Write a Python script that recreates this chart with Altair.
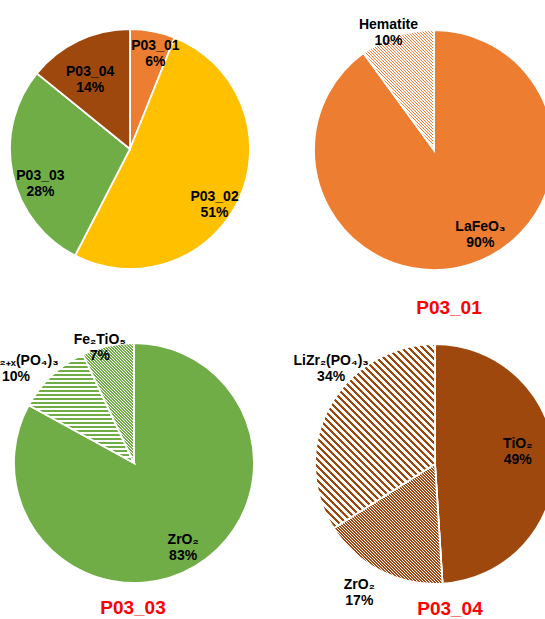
import math
import altair as alt
import pandas as pd

# ---------------- data ----------------
pie_ids = ["all", "P03_01", "P03_03", "P03_04"]
pie_titles = ["", "P03_01", "P03_03", "P03_04"]

labels_all = ["P03_01", "P03_02", "P03_03", "P03_04"]
values_all = [6, 51, 28, 14]

labels_01 = ["LaFeO₃", "Hematite"]
values_01 = [90, 10]

labels_03 = ["ZrO₂", "LiZr₂₊ₓ(PO₄)₃", "Fe₂TiO₅"]
values_03 = [83, 10, 7]

labels_04 = ["TiO₂", "ZrO₂", "LiZr₂(PO₄)₃"]
values_04 = [49, 17, 34]

all_labels = [labels_all, labels_01, labels_03, labels_04]
all_values = [values_all, values_01, values_03, values_04]

# ---------------- style ----------------
FONT = "Liberation Sans, Arial, sans-serif"
R = 120
CENTERS = {"all": (130, 149), "P03_01": (434, 150), "P03_03": (134, 463), "P03_04": (435, 464)}
TITLE_POS = {"P03_01": (449, 308), "P03_03": (133, 608), "P03_04": (450, 609)}

ORANGE, YELLOW, GREEN, BROWN = "#ED7D31", "#FFC000", "#70AD47", "#9E480E"
SOLID = {
    ("all", "P03_01"): ORANGE, ("all", "P03_02"): YELLOW,
    ("all", "P03_03"): GREEN, ("all", "P03_04"): BROWN,
    ("P03_01", "LaFeO₃"): ORANGE, ("P03_03", "ZrO₂"): GREEN, ("P03_04", "TiO₂"): BROWN,
}
# (colour, period px measured across the stripes, colour share, direction)
SQ2 = math.sqrt(2)
PATTERN = {
    ("P03_01", "Hematite"): (ORANGE, 3 / SQ2, 0.5, "down"),
    ("P03_03", "LiZr₂₊ₓ(PO₄)₃"): (GREEN, 4.0, 0.5, "horiz"),
    ("P03_03", "Fe₂TiO₅"): (GREEN, 3 / SQ2, 0.5, "down"),
    ("P03_04", "ZrO₂"): (BROWN, 3 / SQ2, 0.5, "down"),
    ("P03_04", "LiZr₂(PO₄)₃"): (BROWN, 7 / SQ2, 0.42, "down"),
}
# label radius (fraction of R) and angular shift (degrees)
LABEL_POS = {
    ("all", "P03_01"): (0.88, 3), ("all", "P03_02"): (0.81, 5),
    ("all", "P03_03"): (0.78, -5), ("all", "P03_04"): (0.72, -2),
    ("P03_01", "LaFeO₃"): (0.75, -13), ("P03_01", "Hematite"): (1.11, -2),
    ("P03_03", "ZrO₂"): (0.76, -2), ("P03_03", "LiZr₂₊ₓ(PO₄)₃"): (1.3, -6),
    ("P03_03", "Fe₂TiO₅"): (1.06, -3),
    ("P03_04", "TiO₂"): (0.71, -12), ("P03_04", "ZrO₂"): (1.19, 5),
    ("P03_04", "LiZr₂(PO₄)₃"): (1.22, 16),
}

# ---------------- table ----------------
rows = []
for pid, labs, vals in zip(pie_ids, all_labels, all_values):
    for i, (lab, v) in enumerate(zip(labs, vals)):
        lr, sh = LABEL_POS[(pid, lab)]
        rows.append(dict(pie=pid, label=lab, value=v, order=i,
                         key=f"{pid}|{lab}", lr=lr, shift=sh))
df = pd.DataFrame(rows)

keys, colors = [], []
for (pid, lab), c in SOLID.items():
    keys.append(f"{pid}|{lab}")
    colors.append(c)
for (pid, lab), p in PATTERN.items():
    keys.append(f"{pid}|{lab}")
    colors.append(p[0])


def slice_bbox(pid, lab):
    labs = all_labels[pie_ids.index(pid)]
    vals = all_values[pie_ids.index(pid)]
    tot = sum(vals)
    i = labs.index(lab)
    a0 = 2 * math.pi * sum(vals[:i]) / tot
    a1 = 2 * math.pi * sum(vals[: i + 1]) / tot
    pts = [(0, 0), (R * math.sin(a0), -R * math.cos(a0)), (R * math.sin(a1), -R * math.cos(a1))]
    for k in range(5):
        ang = k * math.pi / 2
        if a0 < ang < a1:
            pts.append((R * math.sin(ang), -R * math.cos(ang)))
    xs = [p[0] for p in pts]
    ys = [p[1] for p in pts]
    return max(xs) - min(xs), max(ys) - min(ys)


def stripes(pid, lab):
    color, period, duty, direction = PATTERN[(pid, lab)]
    W, H = slice_bbox(pid, lab)
    if direction == "horiz":
        n = math.ceil(H / period)
        coords = dict(x1=0, y1=0, x2=0, y2=n * period / H)
    else:
        extent = (W + H) / SQ2
        n = math.ceil(extent / period)
        k = SQ2 * n * period / (W * W + H * H)
        if direction == "down":
            coords = dict(x1=0, y1=1, x2=k * W, y2=1 - k * H)
        else:
            coords = dict(x1=0, y1=0, x2=k * W, y2=k * H)
    stops = []
    for i in range(n):
        a, b, c = i / n, (i + duty) / n, (i + 1) / n
        stops += [
            {"color": color, "offset": a}, {"color": color, "offset": b},
            {"color": "#FFFFFF", "offset": b}, {"color": "#FFFFFF", "offset": c},
        ]
    return alt.LinearGradient(gradient="linear", stops=stops, **coords)


theta_scale = alt.Scale(domain=[0, 1], range=[0, 2 * math.pi])
radius_scale = alt.Scale(type="linear", domain=[0, 1], range=[0, R], zero=True, nice=False)

base = (
    alt.Chart(df)
    .transform_joinaggregate(total="sum(value)", groupby=["pie"])
    .transform_window(cum="sum(value)", sort=[alt.SortField("order")], groupby=["pie"], frame=[None, 0])
    .transform_calculate(
        start="(datum.cum - datum.value) / datum.total",
        end="datum.cum / datum.total",
        mid="(datum.cum - datum.value / 2) / datum.total + datum.shift / 360",
        txt="datum.label + '\\n' + datum.value + '%'",
    )
)

layers = []
for pid in pie_ids:
    cx, cy = CENTERS[pid]
    sub = base.transform_filter(alt.datum.pie == pid)
    layers.append(
        sub.mark_arc(outerRadius=R, stroke="white", strokeWidth=1.8).encode(
            theta=alt.Theta("start:Q", scale=theta_scale),
            theta2="end:Q",
            color=alt.Color("key:N", scale=alt.Scale(domain=keys, range=colors), legend=None),
            x=alt.value(cx), y=alt.value(cy),
        )
    )
    for (ppid, lab) in PATTERN:
        if ppid != pid:
            continue
        layers.append(
            base.transform_filter(alt.datum.key == f"{ppid}|{lab}")
            .mark_arc(outerRadius=R, stroke="white", strokeWidth=1.8, fill=stripes(ppid, lab))
            .encode(
                theta=alt.Theta("start:Q", scale=theta_scale),
                theta2="end:Q",
                x=alt.value(cx), y=alt.value(cy),
            )
        )
    layers.append(
        sub.mark_text(font=FONT, fontWeight="bold", fontSize=14, lineBreak="\n",
                      lineHeight=16, color="#000000", align="center", baseline="middle")
        .encode(
            theta=alt.Theta("mid:Q", stack=False, scale=theta_scale),
            radius=alt.Radius("lr:Q", scale=radius_scale),
            text="txt:N",
            x=alt.value(cx), y=alt.value(cy),
        )
    )

for pid, title in zip(pie_ids, pie_titles):
    if not title:
        continue
    tx, ty = TITLE_POS[pid]
    layers.append(
        alt.Chart(pd.DataFrame({"t": [title]}))
        .mark_text(font=FONT, fontWeight="bold", fontSize=19, color="#FF0000",
                   align="center", baseline="middle")
        .encode(text="t:N", x=alt.value(tx), y=alt.value(ty))
    )

chart = (
    alt.layer(*layers)
    .properties(width=545, height=619, autosize=alt.AutoSizeParams(type="none"),
                padding=0, background="white")
    .configure_view(strokeWidth=0)
)

chart.save("out.html", embed_options={"renderer": "svg", "actions": False})
